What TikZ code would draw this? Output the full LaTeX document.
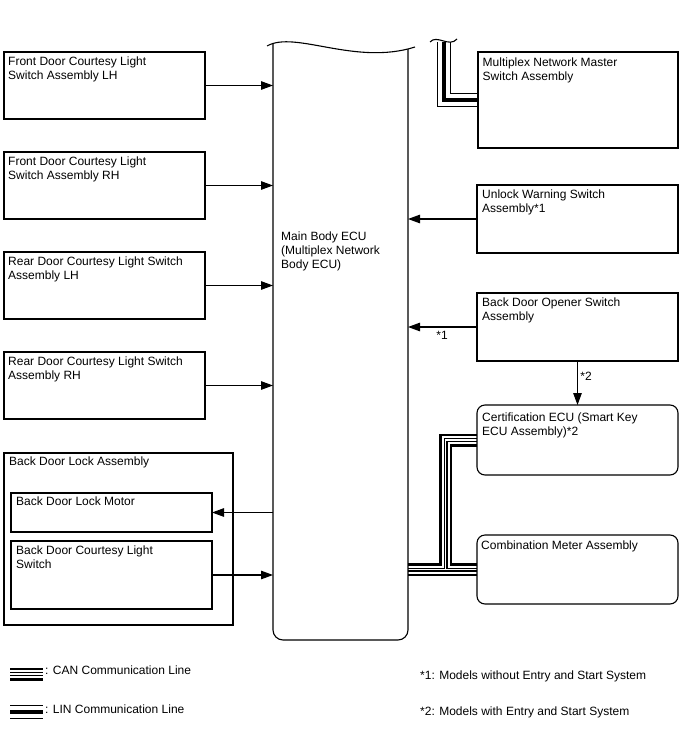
\documentclass[tikz,border=0pt]{standalone}
\usepackage{fontspec}
\setmainfont{Liberation Sans}
\usetikzlibrary{arrows.meta,calc}
\pgfdeclarelayer{bg}
\pgfsetlayers{bg,main}
\newcommand\fs{\fontsize{12}{14}\selectfont}
\begin{document}
\begin{tikzpicture}[x=1pt,y=-1pt, line join=miter,
  box/.style={draw, line width=1.1pt, inner sep=0pt, outer sep=0pt, anchor=north west},
  rbox/.style={box, rounded corners=8pt},
  lbl/.style={anchor=north west, inner sep=0pt, align=left, font=\fs},
  arr/.style={line width=1.1pt, -{Triangle[length=12pt,width=8.5pt]}},
  note/.style={inner sep=0pt, font=\fs}]
\useasboundingbox (0,0) rectangle (688,755);

% left boxes
\node[box, minimum width=201pt, minimum height=67pt] (fl) at (4,52) {};
\node[box, minimum width=201pt, minimum height=67pt] (fr) at (4,152) {};
\node[box, minimum width=201pt, minimum height=67pt] (rl) at (4,252) {};
\node[box, minimum width=201pt, minimum height=67pt] (rr) at (4,352) {};
\node[box, minimum width=229pt, minimum height=172pt] (bdl) at (4,453) {};
\node[box, minimum width=201pt, minimum height=39pt] (mot) at (11,493) {};
\node[box, minimum width=201pt, minimum height=68pt] (bsw) at (11,541) {};
% right boxes
\node[box, minimum width=200pt, minimum height=96pt] (mpx) at (478,52) {};
\node[box, minimum width=201pt, minimum height=68pt] (ulk) at (477,185) {};
\node[box, minimum width=201pt, minimum height=68pt] (opn) at (477,293) {};
\node[rbox, minimum width=201pt, minimum height=70pt] (cert) at (477,405) {};
\node[rbox, minimum width=201pt, minimum height=69pt] (comb) at (477,535) {};
% ECU (invisible frame)
\node[inner sep=0pt, outer sep=0pt, minimum width=135pt, minimum height=590pt, anchor=north west] (ecu) at (273,50) {};

% labels
\node[lbl] (flt) at ([shift={(4,5)}]fl.north west) {Front Door Courtesy Light\\Switch Assembly LH};
\node[lbl] (frt) at ([shift={(4,5)}]fr.north west) {Front Door Courtesy Light\\Switch Assembly RH};
\node[lbl] (rlt) at ([shift={(4,5)}]rl.north west) {Rear Door Courtesy Light Switch\\Assembly LH};
\node[lbl] (rrt) at ([shift={(4,5)}]rr.north west) {Rear Door Courtesy Light Switch\\Assembly RH};
\node[lbl] (bdlt) at ([shift={(5,4)}]bdl.north west) {Back Door Lock Assembly};
\node[lbl] (mott) at ([shift={(5,4)}]mot.north west) {Back Door Lock Motor};
\node[lbl] (bswt) at ([shift={(5,5)}]bsw.north west) {Back Door Courtesy Light\\Switch};
\node[lbl] (mpxt) at ([shift={(4.5,5.5)}]mpx.north west) {Multiplex Network Master\\Switch Assembly};
\node[lbl] (ulkt) at ([shift={(5,5)}]ulk.north west) {Unlock Warning Switch\\Assembly*1};
\node[lbl] (opnt) at ([shift={(5,5)}]opn.north west) {Back Door Opener Switch\\Assembly};
\node[lbl] (certt) at ([shift={(5,8)}]cert.north west) {Certification ECU (Smart Key\\ECU Assembly)*2};
\node[lbl] (combt) at ([shift={(4,6)}]comb.north west) {Combination Meter Assembly};
\node[lbl] (ecut) at (281,231.5) {Main Body ECU\\(Multiplex Network\\Body ECU)};

% communication lines (behind)
\coordinate (cv) at (445.5,0);
\coordinate (mtop) at (443.5,42);
\begin{pgfonlayer}{bg}
\foreach \w/\c in {13/black,8/white,4/black,1.5/white}
  \draw[line width=\w pt,\c] (cert.west) -| (cv |- comb.west) -- (comb.west -| ecu.east)
        (comb.west) -- (comb.west -| ecu.east);
\foreach \w/\c in {14/black,12/white,4/black}
  \draw[line width=\w pt,\c] (mtop) |- (mpx.west);
\end{pgfonlayer}
\draw[line width=1.1pt] (430,42) .. controls (437,34) and (449,48) .. (457,39);

% ECU outline
\draw[line width=1.1pt, rounded corners=10pt] (273,43.4) -- (273,640) -- (408,640) -- (408,49);
\draw[line width=1.1pt] (267,46) .. controls (295,30) and (355,66) .. (415,47);

% arrows
\draw[arr] (fl.east) -- (fl.east -| ecu.west);
\draw[arr] (fr.east) -- (fr.east -| ecu.west);
\draw[arr] (rl.east) -- (rl.east -| ecu.west);
\draw[arr] (rr.east) -- (rr.east -| ecu.west);
\draw[arr] (mot.east -| ecu.west) -- (mot.east);
\draw[arr] (bsw.east) -- (bsw.east -| ecu.west);
\draw[arr] (ulk.west) -- (ulk.west -| ecu.east);
\draw[arr] (opn.west) -- (opn.west -| ecu.east);
\draw[arr] (opn.south) -- (cert.north);
\node[note] (n1) at (442,335) {*1};
\node[note] (n2) at (586,376) {*2};

% legend
\foreach \w/\c in {13/black,8/white,4/black,1.5/white}
  \draw[line width=\w pt,\c] (10,674) -- (43,674);
\foreach \w/\c in {14/black,12/white,4/black}
  \draw[line width=\w pt,\c] (10,711.5) -- (43,711.5);
\node[note, anchor=west] (canl) at (45,670) {: CAN Communication Line};
\node[note, anchor=west] (linl) at (45,709) {: LIN Communication Line};
\node[note, anchor=west] (fn1) at (420,676) {*1: Models without Entry and Start System};
\node[note, anchor=west] (fn2) at (420,712) {*2: Models with Entry and Start System};
\end{tikzpicture}
\end{document}
